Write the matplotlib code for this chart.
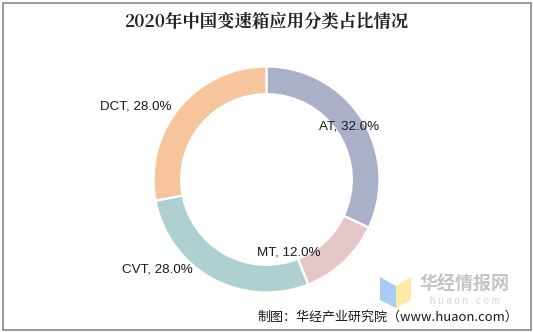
import matplotlib
matplotlib.use("Agg")
import matplotlib.pyplot as plt
from matplotlib.patches import Rectangle, Polygon

plt.rcParams['font.family'] = ['Liberation Sans', 'Noto Sans CJK SC', 'DejaVu Sans']

title = "2020年中国变速箱应用分类占比情况"
categories = ["AT", "MT", "CVT", "DCT"]
shares = [32.0, 12.0, 28.0, 28.0]
colors = ["#abb0c9", "#e6c7c8", "#afd0d1", "#f6c59c"]
source = "制图：华经产业研究院（www.huaon.com）"

# label anchor points in pie units (radius = 1)
label_xy = [(0.735, 0.473), (0.195, -0.642), (-0.965, -0.80), (-1.155, 0.650)]

W, H = 533, 332
fig = plt.figure(figsize=(W / 100, H / 100), dpi=100)

# donut centred at (266.5, 179.5) px with outer radius 113 px
cx, cy, r = 266.5, 179.5, 113
ax = fig.add_axes([(cx - r) / W, (H - cy - r) / H, 2 * r / W, 2 * r / H])
ax.pie(shares, colors=colors, startangle=90, counterclock=False, radius=1,
       wedgeprops=dict(width=0.245, edgecolor="white", linewidth=1.6))
ax.set_xlim(-1, 1)
ax.set_ylim(-1, 1)
ax.set_aspect("equal")
ax.axis("off")

for name, val, (lx, ly) in zip(categories, shares, label_xy):
    ax.text(lx, ly, f"{name}, {val:.1f}%", ha="center", va="center",
            fontsize=9.6, color="#1a1a1a")

fig.text(266 / W, 1 - 22 / H, title, ha="center", va="center",
         fontsize=12.5, fontweight="bold", color="#222222",
         family=['Noto Serif CJK SC', 'Noto Sans CJK SC'])

# watermark logo
fig.patches.append(Polygon([(380 / W, 1 - 277 / H), (396 / W, 1 - 286 / H),
                            (396 / W, 1 - 308 / H), (380 / W, 1 - 300 / H)],
                           closed=True, transform=fig.transFigure,
                           facecolor="#a9ccf4", edgecolor="none"))
fig.patches.append(Polygon([(396 / W, 1 - 286 / H), (411 / W, 1 - 277 / H),
                            (411 / W, 1 - 300 / H), (396 / W, 1 - 308 / H)],
                           closed=True, transform=fig.transFigure,
                           facecolor="#fdeaa6", edgecolor="none"))
fig.text(465 / W, 1 - 284 / H, "华经情报网", ha="center", va="center",
         fontsize=13, fontweight="bold", color="#c4c4c4",
         family=['Noto Sans CJK SC'])
fig.text(465 / W, 1 - 301 / H, "h u a o n . c o m", ha="center", va="center",
         fontsize=7, color="#d4d4d4")

fig.text(518 / W, 1 - 317 / H, source, ha="right", va="center",
         fontsize=9.4, color="#1a1a1a",
         family=['Noto Sans CJK SC', 'Liberation Sans'])

# outer frame
fig.patches.append(Rectangle((2.5 / W, 2.5 / H), 528 / W, 327 / H,
                             transform=fig.transFigure, fill=False,
                             edgecolor="#7f7f7f", linewidth=1.1))

fig.savefig("out.png", dpi=100)
